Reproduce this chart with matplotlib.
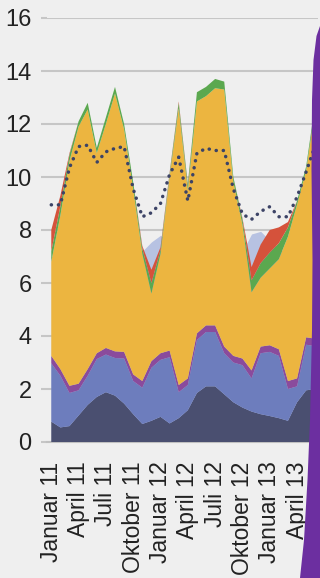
import numpy as np
import matplotlib
matplotlib.use('Agg')
import matplotlib.pyplot as plt
from matplotlib.patches import Polygon

plt.rcParams['font.family'] = ['Liberation Sans', 'DejaVu Sans']

# monthly values, Januar 11 .. Juni 13
months = np.arange(30)
tick_pos = [0, 3, 6, 9, 12, 15, 18, 21, 24, 27]
tick_labels = ['Januar 11', 'April 11', 'Juli 11', 'Oktober 11', 'Januar 12',
               'April 12', 'Juli 12', 'Oktober 12', 'Januar 13', 'April 13']

navy = [0.77, 0.55, 0.6, 1.0, 1.4, 1.7, 1.88, 1.75, 1.45, 1.05,
        0.68, 0.8, 0.95, 0.7, 0.9, 1.2, 1.85, 2.1, 2.1, 1.8,
        1.5, 1.3, 1.15, 1.05, 0.98, 0.9, 0.8, 1.5, 1.95, 2.0]
blue = [2.2, 1.95, 1.25, 0.95, 1.1, 1.43, 1.42, 1.42, 1.7, 1.25,
        1.37, 2.0, 2.15, 2.5, 0.98, 0.95, 2.0, 2.05, 2.05, 1.55,
        1.5, 1.6, 1.25, 2.3, 2.42, 2.35, 1.2, 0.6, 1.72, 1.62]
purple = [0.28, 0.25, 0.27, 0.25, 0.25, 0.22, 0.25, 0.25, 0.25, 0.25,
          0.25, 0.25, 0.25, 0.25, 0.27, 0.25, 0.25, 0.25, 0.25, 0.25,
          0.25, 0.25, 0.3, 0.25, 0.25, 0.25, 0.3, 0.3, 0.28, 0.28]
yellow = [3.55, 5.8, 8.48, 9.7, 9.8, 7.55, 8.45, 9.73, 8.4, 7.0,
          4.8, 2.55, 3.75, 6.55, 10.45, 7.1, 8.75, 8.65, 8.95, 9.7,
          6.55, 5.05, 2.95, 2.6, 2.9, 3.4, 5.45, 6.55, 6.3, 8.7]
green = [0.4, 0.35, 0.25, 0.2, 0.25, 0.2, 0.25, 0.25, 0.2, 0.25,
         0.2, 0.4, 0.15, 0.12, 0.2, 0.2, 0.35, 0.35, 0.35, 0.3,
         0.2, 0.2, 0.45, 0.55, 0.6, 0.6, 0.35, 0.15, 0.15, 0.2]
red = [0.8, 0.4, 0.05, 0, 0, 0, 0, 0, 0, 0,
       0.1, 0.5, 0.1, 0.05, 0.05, 0.05, 0, 0, 0, 0,
       0, 0.05, 0.5, 0.7, 0.85, 0.6, 0.2, 0, 0, 0]
lightblue = [7.0, 7.0, 7.0, 7.0, 7.0, 7.0, 7.0, 7.0, 7.0, 7.0,
             7.2, 7.55, 7.8, 7.5, 7.0, 7.0, 7.0, 7.0, 7.0, 7.0,
             7.0, 7.2, 7.85, 7.95, 7.6, 7.3, 7.0, 7.0, 7.0, 7.0]
dotted = [8.95, 8.95, 10.35, 11.15, 11.2, 10.55, 10.95, 11.08, 11.15, 9.55,
          8.5, 8.65, 9.0, 10.1, 10.75, 9.1, 10.9, 11.08, 11.0, 11.0,
          9.55, 8.6, 8.4, 8.7, 8.88, 8.5, 8.5, 9.25, 10.2, 11.2]

colors = ['#4a4f70', '#6d7dbd', '#8a4b9c', '#ecb540', '#5ba84f', '#d5523b']
bg = '#efefef'

fig = plt.figure(figsize=(3.2, 5.78), dpi=100, facecolor=bg)
ax = fig.add_axes([47 / 320, 136 / 578, 271 / 320, 424 / 578])
ax.set_facecolor(bg)

ax.fill_between(months, 0, lightblue, color='#b7c2e2', lw=0, zorder=2)
ax.stackplot(months, navy, blue, purple, yellow, green, red,
             colors=colors, lw=0, zorder=3)
ax.plot(months, dotted, color='#3c4366', lw=2.5,
        linestyle=(0, (0.05, 2.0)), dash_capstyle='round', zorder=4)

ax.set_xlim(-0.47, 29.3)
ax.set_ylim(0, 16)
ax.set_yticks(range(0, 17, 2))
ax.yaxis.grid(True, color='#c6c6c6', lw=1.5)
ax.set_axisbelow(True)
for s in ['top', 'right', 'left']:
    ax.spines[s].set_visible(False)
ax.spines['bottom'].set_color('#c0c0c0')
ax.spines['bottom'].set_linewidth(1.5)

ax.set_xticks(tick_pos)
ax.set_xticklabels(tick_labels, rotation=90, fontsize=16.5, color='#222222')
ax.tick_params(axis='x', length=0, pad=14)
ax.tick_params(axis='y', length=4, width=1.5, color='#c6c6c6', pad=7,
               labelsize=17, labelcolor='#222222')
ax.yaxis.get_major_ticks()[0].tick1line.set_color('#111111')

# purple ribbon along the right edge
edge = [(320, 26), (316.5, 36), (313.5, 60), (312, 100), (311.5, 170), (312.5, 260),
        (312, 330), (310, 420), (307.5, 480), (304, 540), (300, 578), (320, 578)]
ribbon = Polygon([(x / 320, 1 - y / 578) for x, y in edge], closed=True,
                 facecolor='#6c2fa0', edgecolor='none',
                 transform=fig.transFigure, zorder=10)
fig.add_artist(ribbon)

fig.savefig('out.png', dpi=100, facecolor=bg)
